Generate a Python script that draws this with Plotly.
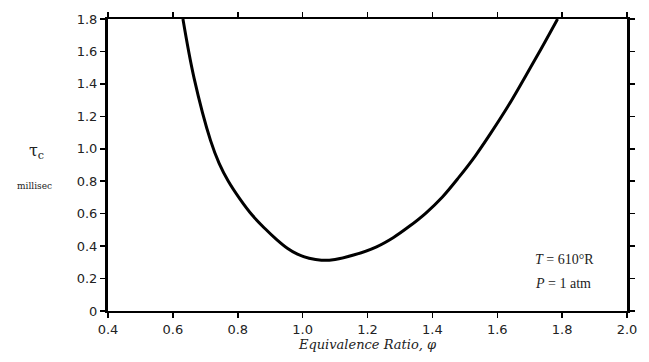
import plotly.graph_objects as go

phi = [0.631, 0.665, 0.716, 0.743, 0.771, 0.807, 0.845, 0.883, 0.920, 0.954,
       0.984, 1.020, 1.058, 1.100, 1.157, 1.228, 1.279, 1.329, 1.380, 1.431,
       1.482, 1.532, 1.578, 1.634, 1.685, 1.735, 1.786]
tau = [1.80, 1.439, 1.052, 0.909, 0.800, 0.690, 0.590, 0.510, 0.440, 0.385,
       0.350, 0.325, 0.313, 0.318, 0.345, 0.396, 0.452, 0.522, 0.604, 0.703,
       0.825, 0.955, 1.090, 1.265, 1.440, 1.615, 1.80]

x_ticks = [0.4, 0.6, 0.8, 1.0, 1.2, 1.4, 1.6, 1.8, 2.0]
x_labels = ["0.4", "0.6", "0.8", "1.0", "1.2", "1.4", "1.6", "1.8", "2.0"]
y_ticks = [0, 0.2, 0.4, 0.6, 0.8, 1.0, 1.2, 1.4, 1.6, 1.8]
y_labels = ["0", "0.2", "0.4", "0.6", "0.8", "1.0", "1.2", "1.4", "1.6", "1.8"]

W, H = 649, 362
l, t, r, b = 108, 18, 15, 50
pw, ph = W - l - r, H - t - b

def paper(px, py):
    return (px - l) / pw, 1 - (py - t) / ph

fig = go.Figure()
fig.add_trace(go.Scatter(x=phi, y=tau, mode="lines",
                         line=dict(color="black", width=3, shape="spline", smoothing=1.0),
                         showlegend=False, hoverinfo="skip", cliponaxis=True))

tickfont = dict(family="DejaVu Sans, Arial, sans-serif", size=13, color="#222")

anns = []
def add_text(text, px, py, font, xanchor="center"):
    x, y = paper(px, py)
    anns.append(dict(text=text, x=x, y=y, xref="paper", yref="paper", showarrow=False,
                     xanchor=xanchor, yanchor="middle", font=font))

add_text("τ<sub>c</sub>", 36, 151, dict(family="DejaVu Serif, serif", size=16, color="#222"))
add_text("millisec", 34, 186, dict(family="DejaVu Serif, serif", size=9, color="#222"))
add_text("<i>T</i> = 610°R", 539, 260, dict(family="Liberation Serif, serif", size=14, color="#222"), "left")
add_text("<i>P</i> = 1 atm", 539, 284, dict(family="Liberation Serif, serif", size=14, color="#222"), "left")

fig.update_layout(
    width=W, height=H,
    margin=dict(l=l, r=r, t=t, b=b),
    paper_bgcolor="white", plot_bgcolor="white",
    hovermode=False,
    xaxis=dict(range=[0.4, 2.0], tickvals=x_ticks, ticktext=x_labels,
               showgrid=False, zeroline=False, showline=True, linecolor="black",
               linewidth=2, mirror="allticks", ticks="outside", ticklen=5,
               tickwidth=1.5, tickcolor="black", tickfont=tickfont,
               title=dict(text="<i>Equivalence Ratio, φ</i>", standoff=4,
                          font=dict(family="DejaVu Serif, Liberation Serif, serif", size=13, color="#222"))),
    yaxis=dict(range=[0, 1.8], tickvals=y_ticks, ticktext=y_labels,
               showgrid=False, zeroline=False, showline=True, linecolor="black",
               linewidth=3, mirror="allticks", ticks="outside", ticklen=5,
               tickwidth=1.5, tickcolor="black", tickfont=tickfont),
    annotations=anns,
)

fig.write_html("out.html",
               config={"displayModeBar": False, "staticPlot": True},
               post_script="document.body.style.margin='0px';document.body.style.overflow='hidden';")
